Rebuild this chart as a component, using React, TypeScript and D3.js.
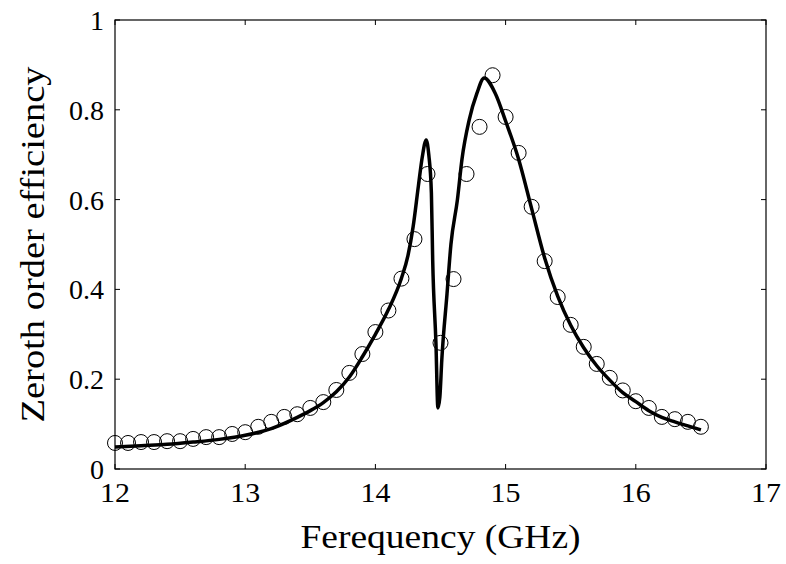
import React from "react";
import * as d3 from "d3";

const xTicks = [12, 13, 14, 15, 16, 17];
const yTicks = [0, 0.2, 0.4, 0.6, 0.8, 1];
const yTickLabels = ["0", "0.2", "0.4", "0.6", "0.8", "1"];

// Measured (circles)
const measFreq = [
  12.0, 12.1, 12.2, 12.3, 12.4, 12.5, 12.6, 12.7, 12.8, 12.9,
  13.0, 13.1, 13.2, 13.3, 13.4, 13.5, 13.6, 13.7, 13.8, 13.9,
  14.0, 14.1, 14.2, 14.3, 14.4, 14.5, 14.6, 14.7, 14.8, 14.9,
  15.0, 15.1, 15.2, 15.3, 15.4, 15.5, 15.6, 15.7, 15.8, 15.9,
  16.0, 16.1, 16.2, 16.3, 16.4, 16.5,
];
const measEff = [
  0.058, 0.058, 0.06, 0.06, 0.062, 0.062, 0.067, 0.071, 0.071, 0.078,
  0.082, 0.094, 0.105, 0.116, 0.122, 0.136, 0.149, 0.176, 0.214, 0.256,
  0.305, 0.353, 0.424, 0.512, 0.657, 0.281, 0.423, 0.657, 0.762, 0.877,
  0.784, 0.704, 0.584, 0.463, 0.383, 0.321, 0.272, 0.234, 0.203, 0.175,
  0.151, 0.136, 0.116, 0.111, 0.105, 0.094,
];

// Simulated (solid line)
const simFreq = [
  12.0, 12.2, 12.4, 12.6, 12.8, 13.0, 13.2, 13.4, 13.5, 13.6,
  13.7, 13.8, 13.9, 14.0, 14.1, 14.2, 14.25, 14.29, 14.33, 14.36,
  14.39, 14.41, 14.43, 14.44, 14.465, 14.48, 14.495, 14.51, 14.55, 14.58,
  14.63, 14.665, 14.72, 14.78, 14.835, 14.92, 15.0, 15.1, 15.2, 15.3,
  15.4, 15.5, 15.6, 15.7, 15.8, 15.9, 16.0, 16.1, 16.2, 16.3,
  16.4, 16.5,
];
const simEff = [
  0.049, 0.052, 0.055, 0.06, 0.066, 0.075, 0.09, 0.115, 0.13, 0.148,
  0.172, 0.205, 0.25, 0.3, 0.355, 0.425, 0.475, 0.54, 0.63, 0.695,
  0.733, 0.7, 0.615, 0.465, 0.28, 0.136, 0.16, 0.243, 0.39, 0.5,
  0.6, 0.69, 0.777, 0.837, 0.871, 0.837, 0.775, 0.69, 0.58, 0.47,
  0.385, 0.32, 0.27, 0.23, 0.198, 0.17, 0.15, 0.13, 0.115, 0.105,
  0.096, 0.087,
];

const W = 786;
const H = 564;
const left = 115;
const right = 766;
const top = 20;
const bottom = 469;
const font = "'Times New Roman', 'Liberation Serif', 'DejaVu Serif', 'Noto Serif', Times, serif";

export default function App() {
  const x = d3.scaleLinear().domain([12, 17]).range([left, right]);
  const y = d3.scaleLinear().domain([0, 1]).range([bottom, top]);
  const line = d3
    .line<number>()
    .x((_, i) => x(simFreq[i]))
    .y((d) => y(d))
    .curve(d3.curveMonotoneX);
  const tl = 5;
  return (
    <svg
      width={W}
      height={H}
      style={{ position: "absolute", left: 0, top: 0, background: "#fff", fontFamily: font }}
    >
      <rect x={0} y={0} width={W} height={H} fill="#fff" />
      <path d={line(simEff) || ""} fill="none" stroke="#000" strokeWidth={3.5} strokeLinejoin="round" />
      {measFreq.map((f, i) => (
        <circle key={i} cx={x(f)} cy={y(measEff[i])} r={7.5} fill="none" stroke="#000" strokeWidth={1} />
      ))}
      <rect x={left} y={top} width={right - left} height={bottom - top} fill="none" stroke="#000" strokeWidth={1.2} />
      {xTicks.map((t) => (
        <g key={"x" + t}>
          <line x1={x(t)} x2={x(t)} y1={bottom} y2={bottom - tl} stroke="#000" />
          <line x1={x(t)} x2={x(t)} y1={top} y2={top + tl} stroke="#000" />
          <text x={x(t)} y={502} textAnchor="middle" fontFamily={font} fontSize={28} textLength={30} lengthAdjust="spacingAndGlyphs">
            {t}
          </text>
        </g>
      ))}
      {yTicks.map((t, i) => (
        <g key={"y" + t}>
          <line x1={left} x2={left + tl} y1={y(t)} y2={y(t)} stroke="#000" />
          <line x1={right} x2={right - tl} y1={y(t)} y2={y(t)} stroke="#000" />
          <text x={104} y={y(t) + 10} textAnchor="end" fontFamily={font} fontSize={28}>
            {yTickLabels[i]}
          </text>
        </g>
      ))}
      <text x={(left + right) / 2} y={548} textAnchor="middle" fontFamily={font} fontSize={33} textLength={280} lengthAdjust="spacingAndGlyphs">
        Ferequency (GHz)
      </text>
      <text
        transform={`translate(44, ${(top + bottom) / 2}) rotate(-90)`}
        textAnchor="middle"
        fontFamily={font}
        fontSize={33}
        textLength={356}
        lengthAdjust="spacingAndGlyphs"
      >
        Zeroth order efficiency
      </text>
    </svg>
  );
}
